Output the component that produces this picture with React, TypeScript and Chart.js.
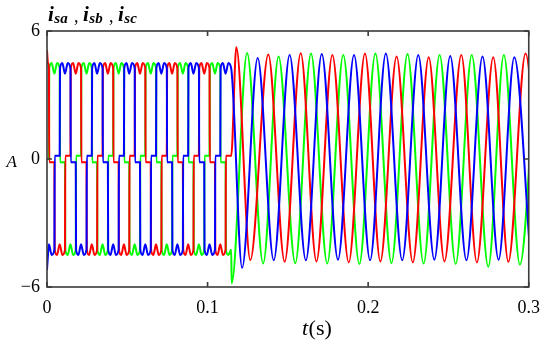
import React, { useEffect, useRef } from 'react';
import { Chart, registerables } from 'chart.js';

Chart.register(...registerables);

// ---------------- data ----------------
const xTickValues = [0, 0.1, 0.2, 0.3];
const xTickLabels = ['0', '0.1', '0.2', '0.3'];
const yTickValues = [-6, 0, 6];
const yTickLabels = ['\u22126', '0', '6'];

// six-step (120° conduction) region: commutation instants in seconds
const sectorEdges = [
  0, 0.0012, 0.0046, 0.0079, 0.0112, 0.0146, 0.0179, 0.0212, 0.0246, 0.0279,
  0.0312, 0.0346, 0.0379, 0.0412, 0.0446, 0.0479, 0.0512, 0.0546, 0.0579,
  0.0612, 0.0646, 0.0679, 0.0712, 0.0746, 0.0779, 0.0812, 0.0846, 0.0879,
  0.0912, 0.0946, 0.0979, 0.1012, 0.1046, 0.1079, 0.1112, 0.1147,
];

// conduction state of each phase in every sector (+1 high, 0 off, -1 low)
const redStates = [
  1, 0, -1, -1, 0, 1, 1, 0, -1, -1, 0, 1, 1, 0, -1, -1, 0, 1, 1,
  0, -1, -1, 0, 1, 1, 0, -1, -1, 0, 1, 1, 0, -1, -1, 0,
];
const greenStates = [
  0, 1, 1, 0, -1, -1, 0, 1, 1, 0, -1, -1, 0, 1, 1, 0, -1, -1, 0,
  1, 1, 0, -1, -1, 0, 1, 1, 0, -1, -1, 0, 1, 1, 0, -1,
];
const blueStates = [
  -1, -1, 0, 1, 1, 0, -1, -1, 0, 1, 1, 0, -1, -1, 0, 1, 1, 0, -1,
  -1, 0, 1, 1, 0, -1, -1, 0, 1, 1, 0, -1, -1, 0, 1, 1,
];
// value of each phase at t = 0
const startValues = [5.1, 0, -5.2];

// plateau levels (A)
const plateauPeak = 4.5;
const plateauDip = 4.0;
const plateauEdge = 4.25;
const offLevel = 0.15;
const edgeWidth = 0.0002;

// sinusoidal region: extremes (time s, value A)
const redSineT = [0.1179, 0.1266, 0.1378, 0.148, 0.158, 0.1678, 0.1777, 0.1879, 0.198, 0.2076, 0.2177, 0.2278, 0.2377, 0.2475, 0.258, 0.2677, 0.2779, 0.2873, 0.298, 0.308];
const redSineV = [5.24, -4.74, 4.9, -4.82, 4.96, -4.8, 4.88, -4.85, 4.95, -4.8, 4.8, -4.85, 4.77, -4.8, 4.88, -4.85, 4.77, -4.82, 4.95, -4.8];
const greenSineT = [0.115, 0.1246, 0.1346, 0.1442, 0.1546, 0.1644, 0.1745, 0.1845, 0.1945, 0.2045, 0.2145, 0.2245, 0.2345, 0.2445, 0.2545, 0.2645, 0.2748, 0.2845, 0.2945, 0.3045];
const greenSineV = [-5.83, 4.97, -4.9, 4.8, -4.88, 4.95, -4.9, 4.88, -4.92, 4.95, -4.88, 4.92, -4.9, 4.88, -4.92, 4.88, -5.05, 4.88, -4.95, 4.9];
const blueSineT = [0.1215, 0.1312, 0.1412, 0.1511, 0.1612, 0.1711, 0.1812, 0.1912, 0.2012, 0.211, 0.2212, 0.2312, 0.2412, 0.2511, 0.2612, 0.2712, 0.2812, 0.291, 0.3012];
const blueSineV = [-5.1, 4.73, -4.75, 4.88, -4.75, 4.92, -4.72, 4.88, -4.75, 4.95, -4.75, 4.88, -4.72, 4.83, -4.75, 4.8, -4.72, 4.77, -4.75];

// ---------------- table building ----------------
type Pt = { x: number; y: number };

function buildPhase(states: number[], startValue: number, sineT: number[], sineV: number[]): Pt[] {
  const pts: Pt[] = [];
  for (let i = 0; i < states.length; i++) {
    const a = sectorEdges[i];
    const b = sectorEdges[i + 1];
    const s = states[i];
    const p = i > 0 ? states[i - 1] : s;
    const n = i < states.length - 1 ? states[i + 1] : null;
    if (i === 0) pts.push({ x: a, y: startValue });
    else if (s !== p) pts.push({ x: a + edgeWidth, y: s === 0 ? -p * offLevel : s * plateauEdge });
    if (s !== 0) {
      pts.push({ x: (a + b) / 2, y: s * plateauPeak });
      pts.push({ x: b, y: s * (n === s ? plateauDip : plateauEdge) });
    } else {
      pts.push({ x: b, y: -p * offLevel });
    }
  }
  sineT.forEach((t, k) => pts.push({ x: t, y: sineV[k] }));
  return pts;
}

const FONT = '"Liberation Serif", "Times New Roman", serif';

const decorPlugin = {
  id: 'decor',
  afterDraw(chart: any) {
    const { ctx, chartArea } = chart;
    const { left, right, top, bottom } = chartArea;
    const xs = chart.scales.x;
    const ys = chart.scales.y;
    ctx.save();
    ctx.strokeStyle = '#3a3a3a';
    ctx.lineWidth = 1.6;
    ctx.strokeRect(left, top, right - left, bottom - top);
    ctx.beginPath();
    xTickValues.forEach((v) => {
      const px = xs.getPixelForValue(v);
      ctx.moveTo(px, bottom);
      ctx.lineTo(px, bottom - 5);
      ctx.moveTo(px, top);
      ctx.lineTo(px, top + 5);
    });
    yTickValues.forEach((v) => {
      const py = ys.getPixelForValue(v);
      ctx.moveTo(left, py);
      ctx.lineTo(left + 5, py);
      ctx.moveTo(right, py);
      ctx.lineTo(right - 5, py);
    });
    ctx.stroke();

    ctx.fillStyle = '#000';
    ctx.textAlign = 'left';
    ctx.textBaseline = 'alphabetic';
    // title  i_sa , i_sb , i_sc
    const groups = [
      { x: 48, sub: 'sa' },
      { x: 83, sub: 'sb' },
      { x: 118, sub: 'sc' },
    ];
    groups.forEach((g, k) => {
      ctx.font = `italic bold 21px ${FONT}`;
      ctx.fillText('i', g.x, 21);
      const w = ctx.measureText('i').width;
      ctx.font = `italic bold 15px ${FONT}`;
      ctx.fillText(g.sub, g.x + w + 0.5, 23);
      if (k < groups.length - 1) {
        ctx.font = `18px ${FONT}`;
        ctx.fillText(',', g.x + 26, 22);
      }
    });
    // y unit
    ctx.font = `italic 17px ${FONT}`;
    ctx.fillText('A', 6.5, 166.5);
    // x title t(s)
    ctx.font = `italic 22px ${FONT}`;
    ctx.fillText('t', 302, 334.5);
    const tw = ctx.measureText('t').width;
    ctx.font = `22px ${FONT}`;
    ctx.fillText('(s)', 302 + tw + 0.5, 334.5);
    ctx.restore();
  },
};

export default function App() {
  const ref = useRef<HTMLCanvasElement>(null);
  useEffect(() => {
    document.body.style.margin = '0';
    const red = buildPhase(redStates, startValues[0], redSineT, redSineV);
    const green = buildPhase(greenStates, startValues[1], greenSineT, greenSineV);
    const blue = buildPhase(blueStates, startValues[2], blueSineT, blueSineV);
    const chart = new Chart(ref.current as HTMLCanvasElement, {
      type: 'line',
      data: {
        datasets: [
          { label: 'isc', data: blue, borderColor: '#0000ff' },
          { label: 'isa', data: red, borderColor: '#ff0000' },
          { label: 'isb', data: green, borderColor: '#00ff00' },
        ],
      },
      options: {
        animation: false,
        responsive: false,
        devicePixelRatio: 1,
        layout: { padding: { top: 31, right: 15, left: 0, bottom: 0 } },
        elements: {
          point: { radius: 0 },
          line: { borderWidth: 2, cubicInterpolationMode: 'monotone', fill: false },
        },
        plugins: { legend: { display: false }, tooltip: { enabled: false } },
        scales: {
          x: {
            type: 'linear',
            min: 0,
            max: 0.3,
            grid: { display: false, drawTicks: false },
            border: { display: false },
            afterBuildTicks: (axis: any) => {
              axis.ticks = xTickValues.map((v) => ({ value: v }));
            },
            afterFit: (s: any) => {
              s.height = 58;
            },
            ticks: {
              padding: 10,
              color: '#000',
              maxRotation: 0,
              autoSkip: false,
              font: { family: FONT, size: 18 },
              callback: (_v: any, i: number) => xTickLabels[i],
            },
          },
          y: {
            type: 'linear',
            min: -6,
            max: 6,
            grid: { display: false, drawTicks: false },
            border: { display: false },
            afterBuildTicks: (axis: any) => {
              axis.ticks = yTickValues.map((v) => ({ value: v }));
            },
            afterFit: (s: any) => {
              s.width = 47;
            },
            ticks: {
              padding: 7,
              color: '#000',
              autoSkip: false,
              font: { family: FONT, size: 18 },
              callback: (_v: any, i: number) => yTickLabels[i],
            },
          },
        },
      } as any,
      plugins: [decorPlugin],
    });
    return () => chart.destroy();
  }, []);
  return (
    <div style={{ width: 550, height: 345, background: '#fff' }}>
      <canvas ref={ref} width={550} height={345} style={{ display: 'block' }} />
    </div>
  );
}
